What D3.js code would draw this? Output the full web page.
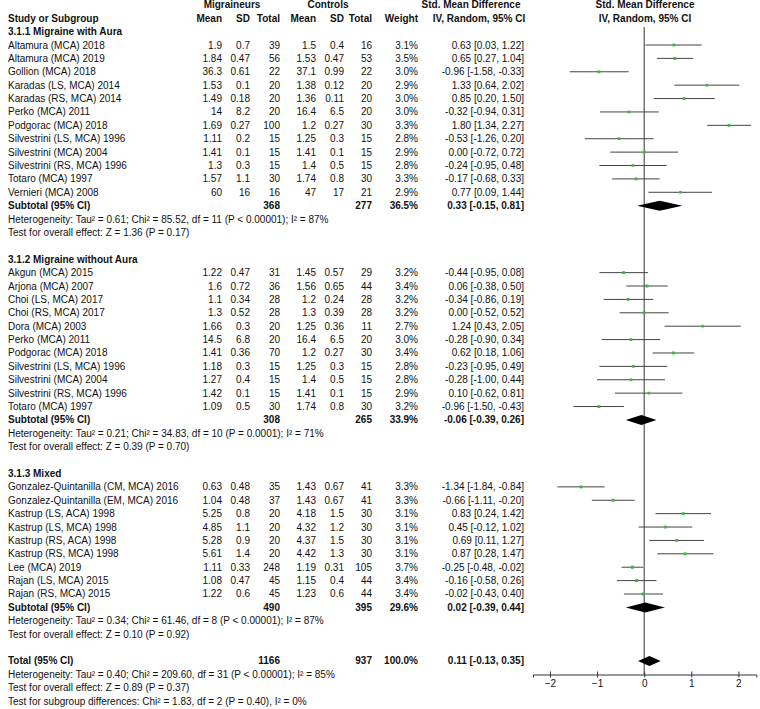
<!DOCTYPE html>
<html><head><meta charset="utf-8">
<script src="https://cdn.jsdelivr.net/npm/d3@7"></script>
<style>
body{margin:0;background:#fff}
svg text{font-family:"Liberation Sans",Arial,sans-serif;font-size:10px;fill:#111}
</style>
</head><body><svg id="c" width="760" height="709"></svg>
<script>
// ---------- DATA ----------
const groupTitles = ["3.1.1 Migraine with Aura","3.1.2 Migraine without Aura","3.1.3 Mixed"];
const studyNames = [
"Altamura (MCA) 2018","Altamura (MCA) 2019","Gollion (MCA) 2018","Karadas (LS, MCA) 2014","Karadas (RS, MCA) 2014","Perko (MCA) 2011","Podgorac (MCA) 2018","Silvestrini (LS, MCA) 1996","Silvestrini (MCA) 2004","Silvestrini (RS, MCA) 1996","Totaro (MCA) 1997","Vernieri (MCA) 2008",
"Akgun (MCA) 2015","Arjona (MCA) 2007","Choi (LS, MCA) 2017","Choi (RS, MCA) 2017","Dora (MCA) 2003","Perko (MCA) 2011","Podgorac (MCA) 2018","Silvestrini (LS, MCA) 1996","Silvestrini (MCA) 2004","Silvestrini (RS, MCA) 1996","Totaro (MCA) 1997",
"Gonzalez-Quintanilla (CM, MCA) 2016","Gonzalez-Quintanilla (EM, MCA) 2016","Kastrup (LS, ACA) 1998","Kastrup (LS, MCA) 1998","Kastrup (RS, ACA) 1998","Kastrup (RS, MCA) 1998","Lee (MCA) 2019","Rajan (LS, MCA) 2015","Rajan (RS, MCA) 2015"];
const studyGroup = [0,0,0,0,0,0,0,0,0,0,0,0, 1,1,1,1,1,1,1,1,1,1,1, 2,2,2,2,2,2,2,2,2];
const mMean = [1.9,1.84,36.3,1.53,1.49,14,1.69,1.11,1.41,1.3,1.57,60, 1.22,1.6,1.1,1.3,1.66,14.5,1.41,1.18,1.27,1.42,1.09, 0.63,1.04,5.25,4.85,5.28,5.61,1.11,1.08,1.22];
const mSD   = [0.7,0.47,0.61,0.1,0.18,8.2,0.27,0.2,0.1,0.3,1.1,16, 0.47,0.72,0.34,0.52,0.3,6.8,0.36,0.3,0.4,0.1,0.5, 0.48,0.48,0.8,1.1,0.9,1.4,0.33,0.47,0.6];
const mN    = [39,56,22,20,20,20,100,15,15,15,30,16, 31,36,28,28,20,20,70,15,15,15,30, 35,37,20,20,20,20,248,45,45];
const cMean = [1.5,1.53,37.1,1.38,1.36,16.4,1.2,1.25,1.41,1.4,1.74,47, 1.45,1.56,1.2,1.3,1.25,16.4,1.2,1.25,1.4,1.41,1.74, 1.43,1.43,4.18,4.32,4.37,4.42,1.19,1.15,1.23];
const cSD   = [0.4,0.47,0.99,0.12,0.11,6.5,0.27,0.3,0.1,0.5,0.8,17, 0.57,0.65,0.24,0.39,0.36,6.5,0.27,0.3,0.5,0.1,0.8, 0.67,0.67,1.5,1.2,1.5,1.3,0.31,0.4,0.6];
const cN    = [16,53,22,20,20,20,30,15,15,15,30,21, 29,44,28,28,11,20,30,15,15,15,30, 41,41,30,30,30,30,105,44,44];
const weight= [3.1,3.5,3.0,2.9,3.0,3.0,3.3,2.8,2.9,2.8,3.3,2.9, 3.2,3.4,3.2,3.2,2.7,3.0,3.4,2.8,2.8,2.9,3.2, 3.3,3.3,3.1,3.1,3.1,3.1,3.7,3.4,3.4];
const smd   = [0.63,0.65,-0.96,1.33,0.85,-0.32,1.80,-0.53,0.00,-0.24,-0.17,0.77, -0.44,0.06,-0.34,0.00,1.24,-0.28,0.62,-0.23,-0.28,0.10,-0.96, -1.34,-0.66,0.83,0.45,0.69,0.87,-0.25,-0.16,-0.02];
const ciLo  = [0.03,0.27,-1.58,0.64,0.20,-0.94,1.34,-1.26,-0.72,-0.95,-0.68,0.09, -0.95,-0.38,-0.86,-0.52,0.43,-0.90,0.18,-0.95,-1.00,-0.62,-1.50, -1.84,-1.11,0.24,-0.12,0.11,0.28,-0.48,-0.58,-0.43];
const ciHi  = [1.22,1.04,-0.33,2.02,1.50,0.31,2.27,0.20,0.72,0.48,0.33,1.44, 0.08,0.50,0.19,0.52,2.05,0.34,1.06,0.49,0.44,0.81,-0.43, -0.84,-0.20,1.42,1.02,1.27,1.47,-0.02,0.26,0.40];

const subMN = [368,308,490];
const subCN = [277,265,395];
const subW = [36.5,33.9,29.6];
const subSMD = [0.33,-0.06,0.02];
const subLo = [-0.15,-0.39,-0.39];
const subHi = [0.81,0.26,0.44];
const subHet = [
 "Heterogeneity: Tau\u00b2 = 0.61; Chi\u00b2 = 85.52, df = 11 (P < 0.00001); I\u00b2 = 87%",
 "Heterogeneity: Tau\u00b2 = 0.21; Chi\u00b2 = 34.83, df = 10 (P = 0.0001); I\u00b2 = 71%",
 "Heterogeneity: Tau\u00b2 = 0.34; Chi\u00b2 = 61.46, df = 8 (P < 0.00001); I\u00b2 = 87%"];
const subTest = [
 "Test for overall effect: Z = 1.36 (P = 0.17)",
 "Test for overall effect: Z = 0.39 (P = 0.70)",
 "Test for overall effect: Z = 0.10 (P = 0.92)"];

const totMN = 1166, totCN = 937, totW = 100.0, totSMD = 0.11, totLo = -0.13, totHi = 0.35;
const totalLines = [
 "Heterogeneity: Tau\u00b2 = 0.40; Chi\u00b2 = 209.60, df = 31 (P < 0.00001); I\u00b2 = 85%",
 "Test for overall effect: Z = 0.89 (P = 0.37)",
 "Test for subgroup differences: Chi\u00b2 = 1.83, df = 2 (P = 0.40), I\u00b2 = 0%"];
const axisTicks = [-2,-1,0,1,2];

// ---------- LAYOUT ----------
const svg = d3.select("#c");
const rows = [];
groupTitles.forEach((t,g)=>{
  rows.push({type:"group", g});
  studyNames.forEach((n,i)=>{ if(studyGroup[i]===g) rows.push({type:"study", i}); });
  rows.push({type:"subtotal", g});
  rows.push({type:"note", text:subHet[g]});
  rows.push({type:"note", text:subTest[g]});
  rows.push({type:"blank"});
});
rows.push({type:"total"});
totalLines.forEach(t=>rows.push({type:"note", text:t}));

const y = d3.scaleLinear().domain([0,52]).range([4.83, 4.83+13.39*52]);
const rowY = k => y(k+2);
const x = d3.scaleLinear().domain([-2.36, 2.38]).range([533, 756.3]);

const col = {name:8, mMean:222, mSD:250, mN:280, cMean:316, cSD:344, cN:372, w:418, ci:524};
const f2 = v => v.toFixed(2);
const ciText = (e,l,h) => `${f2(e)} [${f2(l)}, ${f2(h)}]`;

function txt(xp, yp, s, opts={}){
  return svg.append("text").attr("x",xp).attr("y",yp).attr("dy","0.35em")
    .attr("text-anchor", opts.anchor||"start")
    .style("font-weight", opts.bold?"bold":null)
    .text(s);
}

// headers
txt(232, y(0), "Migraineurs", {anchor:"middle", bold:true});
txt(328, y(0), "Controls", {anchor:"middle", bold:true});
txt(471, y(0), "Std. Mean Difference", {anchor:"middle", bold:true});
txt(645, y(0), "Std. Mean Difference", {anchor:"middle", bold:true});
txt(col.name, y(1), "Study or Subgroup", {bold:true});
[["Mean",col.mMean],["SD",col.mSD],["Total",col.mN],["Mean",col.cMean],["SD",col.cSD],["Total",col.cN],["Weight",col.w]]
  .forEach(([s,xp])=>txt(xp, y(1), s, {anchor:"end", bold:true}));
txt(479, y(1), "IV, Random, 95% CI", {anchor:"middle", bold:true});
txt(645, y(1), "IV, Random, 95% CI", {anchor:"middle", bold:true});

// zero line
svg.append("line").attr("x1",x(0)).attr("x2",x(0)).attr("y1",27).attr("y2",674.5)
  .attr("stroke","#333").attr("stroke-width",1);

const diamond = (e,l,h,yc) => `M${x(l)},${yc}L${x(e)},${yc-5}L${x(h)},${yc}L${x(e)},${yc+5}Z`;

rows.forEach((r,k)=>{
  const yc = rowY(k);
  if(r.type==="group"){
    txt(col.name, yc, groupTitles[r.g], {bold:true});
  } else if(r.type==="study"){
    const i=r.i;
    txt(col.name, yc, studyNames[i]);
    txt(col.mMean, yc, String(mMean[i]), {anchor:"end"});
    txt(col.mSD, yc, String(mSD[i]), {anchor:"end"});
    txt(col.mN, yc, String(mN[i]), {anchor:"end"});
    txt(col.cMean, yc, String(cMean[i]), {anchor:"end"});
    txt(col.cSD, yc, String(cSD[i]), {anchor:"end"});
    txt(col.cN, yc, String(cN[i]), {anchor:"end"});
    txt(col.w, yc, weight[i].toFixed(1)+"%", {anchor:"end"});
    txt(col.ci, yc, ciText(smd[i],ciLo[i],ciHi[i]), {anchor:"end"});
    svg.append("line").attr("x1",x(ciLo[i])).attr("x2",x(ciHi[i])).attr("y1",yc).attr("y2",yc)
      .attr("stroke","#444").attr("stroke-width",1);
    const s = Math.sqrt(weight[i])*1.6;
    svg.append("rect").attr("x",x(smd[i])-s/2).attr("y",yc-s/2).attr("width",s).attr("height",s)
      .attr("fill","#3cb83c");
  } else if(r.type==="subtotal"){
    const g=r.g;
    txt(col.name, yc, "Subtotal (95% CI)", {bold:true});
    txt(col.mN, yc, String(subMN[g]), {anchor:"end", bold:true});
    txt(col.cN, yc, String(subCN[g]), {anchor:"end", bold:true});
    txt(col.w, yc, subW[g].toFixed(1)+"%", {anchor:"end", bold:true});
    txt(col.ci, yc, ciText(subSMD[g],subLo[g],subHi[g]), {anchor:"end", bold:true});
    svg.append("path").attr("d", diamond(subSMD[g],subLo[g],subHi[g],yc)).attr("fill","#000");
  } else if(r.type==="total"){
    txt(col.name, yc, "Total (95% CI)", {bold:true});
    txt(col.mN, yc, String(totMN), {anchor:"end", bold:true});
    txt(col.cN, yc, String(totCN), {anchor:"end", bold:true});
    txt(col.w, yc, totW.toFixed(1)+"%", {anchor:"end", bold:true});
    txt(col.ci, yc, ciText(totSMD,totLo,totHi), {anchor:"end", bold:true});
    svg.append("path").attr("d", diamond(totSMD,totLo,totHi,yc)).attr("fill","#000");
  } else if(r.type==="note"){
    txt(col.name, yc, r.text);
  }
});

// axis
const axisY = 674.5;
const ax = svg.append("g").attr("transform",`translate(0,${axisY})`)
  .call(d3.axisBottom(x).tickValues(axisTicks).tickSizeOuter(0).tickSize(3).tickFormat(d3.format("d")));
ax.select(".domain").attr("stroke","#333");
ax.selectAll(".tick line").attr("y1",-3).attr("y2",3).attr("stroke","#333");
ax.selectAll(".tick text").attr("y",5).attr("dy","0.71em")
  .style("font-family",'"Liberation Sans",Arial,sans-serif').style("font-size","10px").attr("fill","#111");
</script>
</body></html>
